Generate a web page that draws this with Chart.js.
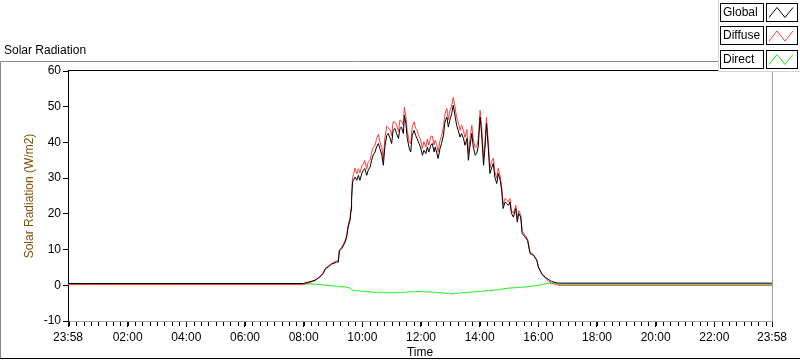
<!DOCTYPE html>
<html lang="en">
<head>
  <meta charset="utf-8">
  <title>Solar Radiation</title>
  <style>
    body { margin: 0; background: #fff; }
    canvas { display: block; }
  </style>
</head>
<body>
<canvas id="solarChartCanvas" width="800" height="361"></canvas>
<script src="https://cdn.jsdelivr.net/npm/chart.js"></script>
<script>

   // minutes since 23:58 (start of the record)
   var Minutes = [0, 481, 495, 505, 515, 522, 527, 532, 539, 550, 553, 555, 560, 567, 570, 573, 577, 579, 580, 582,
      584, 587, 591, 594, 597, 601, 604, 607, 611, 614, 618, 621, 624, 628, 631, 635, 638, 642, 645, 648,
      652, 655, 659, 662, 665, 669, 672, 676, 679, 682, 686, 688, 691, 694, 698, 701, 704, 708, 711, 714,
      718, 721, 725, 728, 732, 735, 738, 742, 745, 749, 751, 754, 757, 761, 764, 768, 771, 775, 778, 781,
      785, 788, 792, 795, 798, 802, 805, 809, 812, 816, 819, 822, 826, 829, 833, 836, 839, 843, 846, 850,
      853, 856, 860, 863, 867, 870, 873, 877, 880, 884, 887, 890, 894, 897, 901, 904, 907, 911, 916, 919,
      922, 926, 929, 935, 940, 945, 952, 959, 962, 969, 976, 982, 989, 996, 1003, 1440];

   var GlobalData = [0.5, 0.5, 1.0, 1.4, 2.3, 3.3, 4.7, 5.1, 5.9, 6.5, 6.5, 9.6, 10.3, 12.1, 13.5, 16.3, 18.2, 21.0, 23.8, 28.9,
      29.4, 30.3, 29.4, 30.8, 29.4, 31.3, 32.2, 32.7, 30.8, 32.2, 33.1, 35.0, 36.4, 37.3, 38.7, 39.7, 38.3, 36.4, 33.6, 38.7,
      42.0, 42.5, 41.1, 39.7, 43.4, 43.9, 42.5, 41.1, 43.9, 44.3, 42.5, 47.6, 45.3, 41.1, 38.3, 37.3, 42.0, 43.4, 42.0, 41.1,
      39.7, 38.7, 36.4, 37.8, 36.9, 38.7, 37.3, 39.2, 39.7, 37.3, 38.7, 37.3, 35.5, 38.3, 39.7, 42.0, 45.7, 47.1, 44.3, 46.2,
      48.1, 50.4, 47.1, 44.8, 43.4, 41.5, 42.5, 41.1, 39.2, 41.1, 35.0, 38.7, 42.5, 38.7, 36.4, 36.9, 38.7, 47.1, 42.5, 33.6,
      38.7, 45.3, 37.8, 31.3, 33.1, 34.1, 30.3, 28.5, 31.3, 29.4, 26.6, 21.5, 23.3, 22.9, 22.4, 23.3, 20.1, 19.1, 21.5, 17.7,
      20.1, 19.1, 14.5, 13.5, 12.6, 8.9, 8.4, 7.0, 5.1, 3.3, 2.3, 1.7, 1.1, 0.8, 0.6, 0.6];

   var DiffuseData = [0.2, 0.2, 0.8, 1.3, 2.4, 3.6, 4.8, 5.3, 6.1, 6.9, 7.0, 9.9, 10.7, 12.6, 14.0, 16.9, 19.0, 22.0, 25.0, 30.2,
      31.0, 32.8, 31.2, 32.6, 31.5, 33.4, 34.0, 34.9, 32.5, 34.6, 35.0, 37.2, 38.6, 39.1, 41.0, 42.3, 40.2, 38.5, 35.4, 41.1,
      44.6, 44.2, 43.4, 41.9, 45.8, 45.6, 44.9, 43.0, 46.3, 46.0, 44.8, 49.9, 47.4, 43.3, 40.1, 39.6, 44.2, 45.8, 43.9, 43.5,
      41.6, 41.0, 38.3, 40.2, 38.7, 41.0, 39.2, 41.7, 41.8, 39.3, 40.6, 39.4, 37.4, 40.5, 41.7, 44.4, 47.9, 49.5, 46.4, 48.7,
      50.3, 52.6, 49.6, 46.9, 45.8, 43.4, 44.9, 43.2, 41.4, 43.6, 37.0, 40.8, 44.8, 40.7, 38.5, 38.8, 40.9, 49.0, 44.6, 35.4,
      40.3, 47.0, 39.6, 32.9, 34.8, 35.6, 31.9, 30.0, 32.8, 30.6, 27.9, 22.6, 24.4, 24.0, 23.3, 24.3, 21.0, 20.1, 22.4, 18.6,
      20.9, 19.8, 15.1, 14.0, 13.0, 9.3, 8.6, 7.1, 5.2, 3.1, 2.0, 1.3, 0.6, 0.3, 0.0, 0.0];

   var DirectData = [0.2, 0.3, 0.4, 0.3, 0.2, 0.1, 0.0, 0.0, -0.1, -0.3, -0.3, -0.4, -0.4, -0.5, -0.5, -0.6, -0.8, -1.1, -1.2, -1.4,
      -1.4, -1.5, -1.5, -1.6, -1.6, -1.7, -1.6, -1.8, -1.7, -1.9, -1.8, -1.9, -2.0, -1.9, -2.0, -2.1, -2.0, -1.9, -2.0, -2.1,
      -2.0, -2.1, -2.0, -2.2, -2.1, -2.0, -2.1, -2.0, -1.9, -2.0, -2.1, -2.0, -1.9, -2.0, -1.8, -1.9, -1.8, -1.9, -1.7, -1.8,
      -1.7, -1.8, -1.7, -1.9, -1.8, -1.9, -1.8, -1.9, -2.0, -1.9, -2.0, -2.1, -2.0, -2.1, -2.2, -2.1, -2.2, -2.3, -2.2, -2.3,
      -2.4, -2.3, -2.2, -2.3, -2.1, -2.2, -2.1, -2.0, -2.1, -2.0, -2.0, -1.9, -1.9, -1.8, -1.9, -1.8, -1.7, -1.8, -1.6, -1.7,
      -1.6, -1.5, -1.6, -1.4, -1.5, -1.4, -1.3, -1.3, -1.2, -1.1, -1.1, -1.0, -0.9, -0.9, -0.8, -0.8, -0.7, -0.7, -0.7, -0.6,
      -0.6, -0.6, -0.5, -0.5, -0.4, -0.3, -0.2, -0.1, 0.0, 0.2, 0.4, 0.5, 0.6, 0.7, 0.3, 0.3];

   // labelled time ticks (minutes since 23:58)
   var MajorTicks = [0, 122, 242, 362, 482, 602, 722, 842, 962, 1082, 1202, 1322, 1440];
   var YTicks = [-10, 0, 10, 20, 30, 40, 50, 60];

   var FontFamily = "'Liberation Sans', Arial, sans-serif";

   function ToClock(v){
      var m = (23 * 60 + 58 + Math.round(v)) % 1440;
      var h = Math.floor(m / 60);
      var mm = m % 60;
      return (h < 10 ? '0' : '') + h + ':' + (mm < 10 ? '0' : '') + mm;
   }

   function Points(values){
      var pts = [];
      for(i = 0; i < Minutes.length; ++i){
         pts.push({ x: Minutes[i], y: values[i] });
      }
      return pts;
   }

   const framePlugin = {
      id: 'frame',
      beforeDraw(chart){
         const ctx = chart.ctx;
         ctx.save();
         ctx.fillStyle = '#ffffff';
         ctx.fillRect(0, 0, chart.width, chart.height);
         // outer panel
         ctx.lineWidth = 1;
         ctx.strokeStyle = '#8a8a8a';
         ctx.beginPath();
         ctx.moveTo(0.5, 358);
         ctx.lineTo(0.5, 61.5);
         ctx.lineTo(718, 61.5);
         ctx.stroke();
         ctx.strokeStyle = '#000000';
         ctx.beginPath();
         ctx.moveTo(0, 358.5);
         ctx.lineTo(800, 358.5);
         ctx.stroke();
         ctx.fillStyle = '#000000';
         ctx.font = '12px ' + FontFamily;
         ctx.textBaseline = 'middle';
         ctx.fillText('Solar Radiation', 4, 50.5);
         ctx.restore();
      },
      afterDraw(chart){
         const ctx = chart.ctx;
         const a = chart.chartArea;
         const xs = chart.scales.x;
         ctx.save();
         ctx.lineWidth = 1;
         ctx.strokeStyle = '#000000';
         ctx.beginPath();
         ctx.moveTo(a.left, a.top - 0.5);
         ctx.lineTo(a.right, a.top - 0.5);
         ctx.stroke();
         ctx.strokeStyle = '#a0a0a0';
         ctx.beginPath();
         ctx.moveTo(a.right + 0.5, a.top);
         ctx.lineTo(a.right + 0.5, a.bottom);
         ctx.stroke();
         // minor time ticks every 15 minutes
         ctx.strokeStyle = '#000000';
         ctx.beginPath();
         for(v = 2; v < 1440; v += 15){
            var px = Math.round(xs.getPixelForValue(v)) + 0.5;
            ctx.moveTo(px, a.bottom + 1);
            ctx.lineTo(px, a.bottom + 5);
         }
         ctx.stroke();

         // legend panel
         ctx.fillStyle = '#ffffff';
         ctx.fillRect(718, 0, 82, 71);
         ctx.strokeStyle = '#d4d4d4';
         ctx.beginPath();
         ctx.moveTo(718.5, 0);
         ctx.lineTo(718.5, 71.5);
         ctx.lineTo(800, 71.5);
         ctx.stroke();
         ctx.font = '12px ' + FontFamily;
         ctx.textBaseline = 'middle';
         chart.data.datasets.forEach(function(ds, idx){
            var top = 2.5 + idx * 23.5;
            ctx.strokeStyle = '#000000';
            ctx.strokeRect(720.5, Math.round(top) + 0.5, 43, 18);
            ctx.strokeRect(766.5, Math.round(top) + 0.5, 31, 18);
            ctx.fillStyle = '#000000';
            ctx.fillText(ds.label, 723, Math.round(top) + 10);
            ctx.strokeStyle = ds.borderColor;
            ctx.beginPath();
            ctx.moveTo(769, top + 15);
            ctx.lineTo(777, top + 5);
            ctx.lineTo(785, top + 15);
            ctx.lineTo(793, top + 5);
            ctx.stroke();
         });
         ctx.restore();
      }
   };

   const solarChartCanvas = document.getElementById('solarChartCanvas');

   var SolarChart = new Chart(solarChartCanvas, {
      type: 'line',
      data: {
         datasets: [
            { label: 'Global', data: Points(GlobalData), borderColor: '#000000', borderWidth: 1, pointRadius: 0, tension: 0 },
            { label: 'Diffuse', data: Points(DiffuseData), borderColor: '#ff3b3b', borderWidth: 1, pointRadius: 0, tension: 0 },
            { label: 'Direct', data: Points(DirectData), borderColor: '#14f014', borderWidth: 1, pointRadius: 0, tension: 0 },
         ],
      },
      options: {
         responsive: false,
         animation: false,
         layout: { padding: { top: 71, right: 28, bottom: 0, left: 0 } },
         plugins: {
            legend: { display: false },
            title: { display: false },
            tooltip: { enabled: false },
         },
         scales: {
            x: {
               type: 'linear',
               min: 0,
               max: 1440,
               afterBuildTicks: function(scale){
                  scale.ticks = MajorTicks.map(function(v){ return { value: v }; });
               },
               afterFit: function(scale){ scale.height = 40; },
               ticks: {
                  autoSkip: false,
                  maxRotation: 0,
                  padding: 3,
                  color: '#000000',
                  font: { family: FontFamily, size: 12 },
                  callback: function(v){ return ToClock(v); },
               },
               grid: { drawOnChartArea: false, drawTicks: true, tickLength: 6, color: '#000000' },
               border: { color: '#a0a0a0', width: 1 },
               title: {
                  display: true,
                  text: 'Time',
                  color: '#000000',
                  font: { family: FontFamily, size: 12 },
                  padding: { top: 0, bottom: 1 },
               },
            },
            y: {
               type: 'linear',
               min: -10,
               max: 60,
               afterBuildTicks: function(scale){
                  scale.ticks = YTicks.map(function(v){ return { value: v }; });
               },
               afterFit: function(scale){ scale.width = 68; },
               ticks: {
                  padding: 2,
                  color: '#000000',
                  font: { family: FontFamily, size: 12 },
               },
               grid: { drawOnChartArea: false, drawTicks: true, tickLength: 5, color: '#000000' },
               border: { color: '#000000', width: 1 },
               title: {
                  display: true,
                  text: 'Solar Radiation (W/m2)',
                  color: '#845000',
                  font: { family: FontFamily, size: 12 },
                  padding: { top: 22, bottom: 0 },
               },
            },
         },
      },
      plugins: [framePlugin],
   });

</script>
</body>
</html>
